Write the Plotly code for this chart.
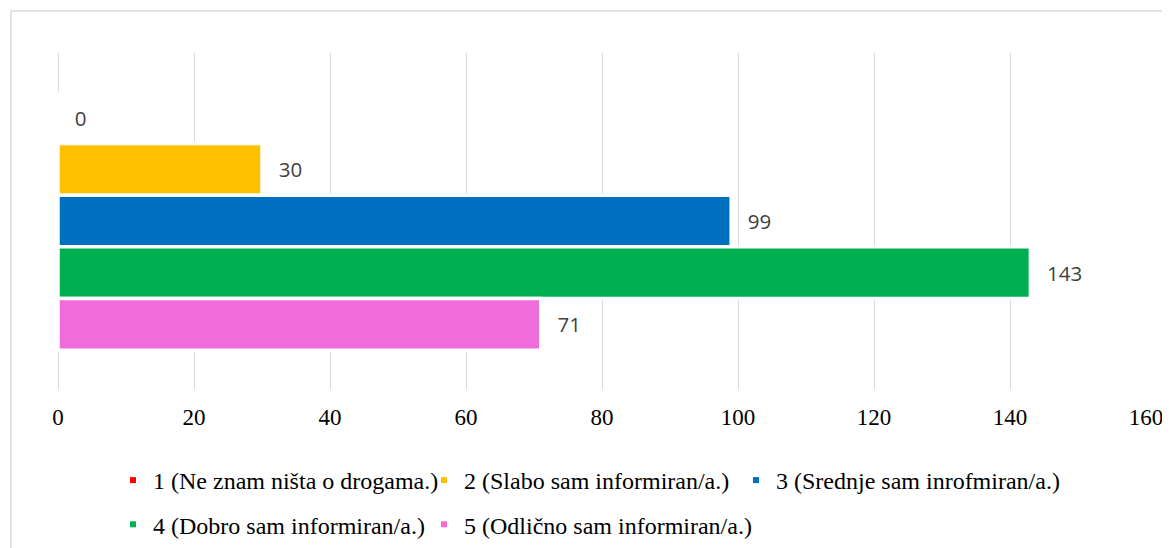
import plotly.graph_objects as go

# ---- data ----
series_names = [
    "1 (Ne znam ništa o drogama.)",
    "2 (Slabo sam informiran/a.)",
    "3 (Srednje sam inrofmiran/a.)",
    "4 (Dobro sam informiran/a.)",
    "5 (Odlično sam informiran/a.)",
]
values = [0, 30, 99, 143, 71]
colors = ["#FF0000", "#FFC000", "#0070C0", "#00B050", "#F06CDA"]
category = [" "]
x_ticks = [0, 20, 40, 60, 80, 100, 120, 140, 160]

# page body has an 8px margin; positions below are screen pixels minus that
OFF = 8
W, H = 1170, 548
L = 58 - OFF
T = 53 - OFF
R = W - (1146 - OFF)
B = H - (389 - OFF)
pw, ph = W - L - R, H - T - B

def px_x(p):
    return (p - OFF - L) / pw

def px_y(p):
    return (H - B - (p - OFF)) / ph

fig = go.Figure()

for name, val, col in zip(series_names, values, colors):
    fig.add_trace(go.Bar(
        y=category, x=[val], orientation="h", name=name,
        marker=dict(color=col, line=dict(color="white", width=3.5)),
        text=[val], texttemplate="\u2002\u2009%{x}", textposition="outside",
        textfont=dict(family="Open Sans", size=20.5, color="#404040"),
        cliponaxis=False, showlegend=False,
    ))

# legend entries: one vertical legend per column
legend_of = ["legend", "legend2", "legend3", "legend", "legend2"]
for i, (name, col) in enumerate(zip(series_names, colors)):
    fig.add_trace(go.Scatter(
        x=[None], y=[None], mode="markers", name=name,
        marker=dict(symbol="square", size=6, color=col),
        legend=legend_of[i], legendgroup=f"g{i}",
        hoverinfo="skip",
    ))

legend_font = dict(family="Liberation Serif", size=24, color="black")

def leg(left_px):
    return dict(
        orientation="v", x=px_x(left_px), xanchor="left",
        y=px_y(458), yanchor="top", tracegroupgap=10,
        font=legend_font, bgcolor="rgba(0,0,0,0)", borderwidth=0,
    )

fig.update_layout(
    width=W, height=H,
    margin=dict(l=L, r=R, t=T, b=B, autoexpand=False),
    paper_bgcolor="white", plot_bgcolor="white",
    barmode="group", bargap=0.23, bargroupgap=0,
    xaxis=dict(
        range=[0, 160], tickvals=x_ticks, ticktext=[str(v) for v in x_ticks],
        showgrid=True, gridcolor="#D9D9D9", gridwidth=1,
        zeroline=True, zerolinecolor="#D9D9D9", zerolinewidth=1,
        showline=False, ticks="", ticklabelstandoff=12,
        tickfont=dict(family="Liberation Serif", size=23, color="black"),
        fixedrange=True,
    ),
    yaxis=dict(
        autorange="reversed", showticklabels=False, showgrid=False,
        zeroline=False, showline=False, ticks="", fixedrange=True,
    ),
    legend=leg(113),
    legend2=leg(424),
    legend3=leg(736),
    shapes=[dict(
        type="rect", xref="paper", yref="paper",
        x0=px_x(11), x1=px_x(1190), y0=px_y(570), y1=px_y(11),
        line=dict(color="#D9D9D9", width=1.5), fillcolor="rgba(0,0,0,0)",
        layer="below",
    )],
)

fig.write_html("out.html")
